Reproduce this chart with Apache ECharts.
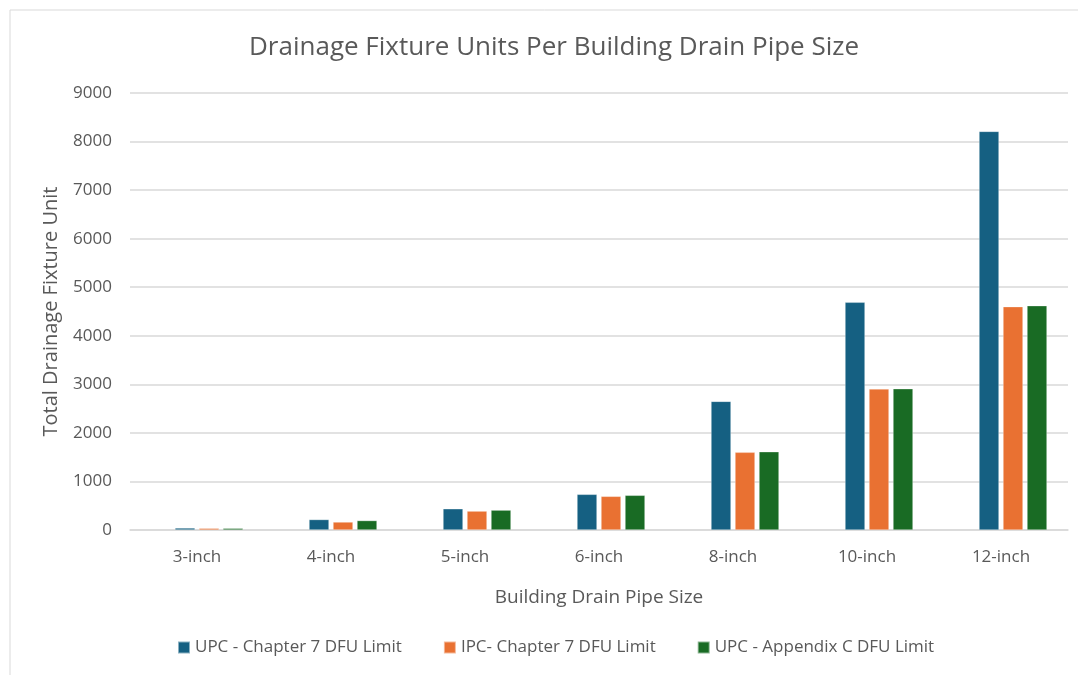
<!DOCTYPE html>
<html>
<head>
<meta charset="utf-8">
<script src="https://cdn.jsdelivr.net/npm/echarts@6/dist/echarts.min.js"></script>
<style>
  html, body { margin: 0; padding: 0; background: #fff; }
  #chart { width: 1078px; height: 675px; }
</style>
</head>
<body>
<div id="chart"></div>
<script>
// values
const pipeSizes = ['3-inch', '4-inch', '5-inch', '6-inch', '8-inch', '10-inch', '12-inch'];
const upcChapter7 = [42, 216, 438, 735, 2650, 4690, 8210];
const ipcChapter7 = [36, 165, 390, 694, 1600, 2905, 4600];
const upcAppendixC = [36, 195, 410, 715, 1612, 2910, 4620];
// the source chart has an empty first series, which pushes the bars right of the labels
const emptySeries = [null, null, null, null, null, null, null];
const yTicks = [0, 1000, 2000, 3000, 4000, 5000, 6000, 7000, 8000, 9000];

const seriesNames = ['UPC - Chapter 7 DFU Limit', 'IPC- Chapter 7 DFU Limit', 'UPC - Appendix C DFU Limit'];
const colors = ['#156082', '#E97132', '#196B24'];
const font = '"Open Sans", Lato, sans-serif';

const chart = echarts.init(document.getElementById('chart'), null, { renderer: 'canvas' });

function bar(name, data, color) {
    return {
        name: name,
        type: 'bar',
        data: data,
        barWidth: 20,
        barGap: '20%',
        itemStyle: { color: color, borderColor: 'rgba(255,255,255,0.5)', borderWidth: 0.6 }
    };
}

chart.setOption({
    backgroundColor: '#fff',
    graphic: [{
        type: 'rect',
        shape: { x: 10, y: 10, width: 1080, height: 670 },
        style: { fill: 'none', stroke: '#d9d9d9', lineWidth: 1 },
        silent: true
    }],
    title: {
        text: 'Drainage Fixture Units Per Building Drain Pipe Size',
        left: 244,
        top: 30,
        textStyle: { fontFamily: font, fontSize: 26, fontWeight: 'normal', color: '#595959' }
    },
    legend: {
        bottom: 14,
        left: 172,
        itemWidth: 12,
        itemHeight: 12,
        itemGap: 41,
        icon: 'rect',
        textStyle: { fontFamily: font, fontSize: 17, color: '#595959' },
        data: seriesNames
    },
    grid: { left: 130, right: 10, top: 93, bottom: 145 },
    xAxis: {
        type: 'category',
        data: pipeSizes,
        name: 'Building Drain Pipe Size',
        nameLocation: 'middle',
        nameGap: 58,
        nameTextStyle: { fontFamily: font, fontSize: 19, color: '#595959' },
        axisLine: { lineStyle: { color: '#d9d9d9', width: 1.5 } },
        axisTick: { show: false },
        axisLabel: { fontFamily: font, fontSize: 17, color: '#595959', margin: 19 }
    },
    yAxis: {
        type: 'value',
        min: yTicks[0],
        max: yTicks[yTicks.length - 1],
        interval: 1000,
        name: 'Total Drainage Fixture Unit',
        nameLocation: 'middle',
        nameGap: 69,
        nameTextStyle: { fontFamily: font, fontSize: 20, color: '#595959' },
        axisLine: { show: false },
        axisTick: { show: false },
        splitLine: { lineStyle: { color: '#d9d9d9', width: 1.5 } },
        axisLabel: { fontFamily: font, fontSize: 17, color: '#595959', margin: 18, formatter: v => String(v) }
    },
    series: [
        bar('', emptySeries, 'transparent'),
        bar(seriesNames[0], upcChapter7, colors[0]),
        bar(seriesNames[1], ipcChapter7, colors[1]),
        bar(seriesNames[2], upcAppendixC, colors[2])
    ]
});

window.addEventListener('resize', () => chart.resize());
</script>
</body>
</html>
